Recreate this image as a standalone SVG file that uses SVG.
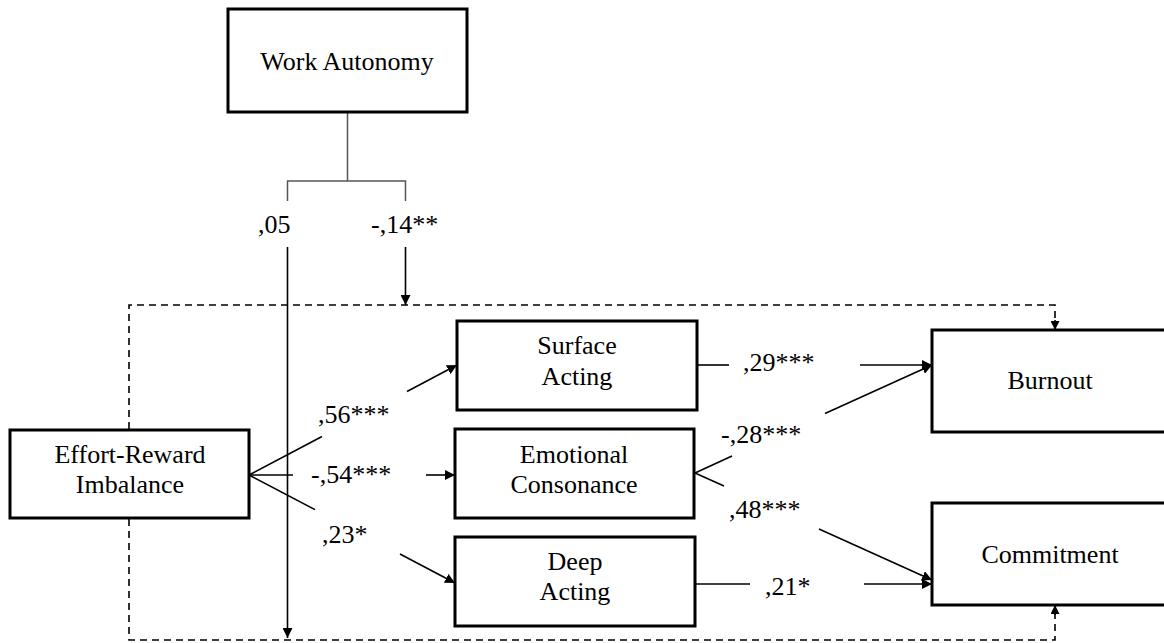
<svg xmlns="http://www.w3.org/2000/svg" width="1164" height="643" viewBox="0 0 1164 643">
<style>
.box{fill:#fff;stroke:#000;stroke-width:3}
.t{font-family:'Liberation Serif',serif;font-size:26px;fill:#000}
.c{text-anchor:middle}
.ln{stroke:#000;stroke-width:1.6;fill:none}
.gr{stroke:#555;stroke-width:1.5;fill:none}
.da{stroke:#000;stroke-width:1.6;fill:none;stroke-dasharray:7,5}
</style>
<defs>
<marker id="ah" markerWidth="10" markerHeight="10" refX="10" refY="5" orient="auto" markerUnits="userSpaceOnUse" viewBox="0 0 10 10">
<path d="M0,0 L10,5 L0,10 z" fill="#000"/>
</marker>
<marker id="ahs" markerWidth="9" markerHeight="9" refX="9" refY="4.5" orient="auto" markerUnits="userSpaceOnUse" viewBox="0 0 9 9">
<path d="M0,0 L9,4.5 L0,9 z" fill="#000"/>
</marker>
</defs>
<rect width="1164" height="643" fill="#fff"/>
<g id="connectors">
<path class="gr" d="M347.5,112 V181 M287.5,201 V181 H405.5 V201"/>
<line class="ln" x1="287.5" y1="247" x2="287.5" y2="638" marker-end="url(#ah)"/>
<line class="ln" x1="405.5" y1="247" x2="405.5" y2="305" marker-end="url(#ah)"/>
<path class="da" d="M129,429 V305 H1055 V322"/>
<line class="ln" x1="1055" y1="320" x2="1055" y2="330" marker-end="url(#ahs)"/>
<path class="da" d="M129,519 V640 H1055 V614"/>
<line class="ln" x1="1055" y1="615" x2="1055" y2="605" marker-end="url(#ahs)"/>
<line class="ln" x1="249" y1="475" x2="322" y2="436.5"/>
<line class="ln" x1="407" y1="391.5" x2="457" y2="365" marker-end="url(#ah)"/>
<line class="ln" x1="249" y1="475" x2="293" y2="475"/>
<line class="ln" x1="426" y1="475" x2="455" y2="475" marker-end="url(#ah)"/>
<line class="ln" x1="249" y1="475" x2="315" y2="509.6"/>
<line class="ln" x1="400" y1="554" x2="455" y2="583" marker-end="url(#ah)"/>
<line class="ln" x1="697" y1="365" x2="729" y2="365"/>
<line class="ln" x1="860" y1="365" x2="932" y2="365" marker-end="url(#ah)"/>
<line class="ln" x1="695" y1="473" x2="732" y2="456"/>
<line class="ln" x1="825" y1="413.5" x2="932" y2="365" marker-end="url(#ah)"/>
<line class="ln" x1="695" y1="473" x2="724" y2="486"/>
<line class="ln" x1="819" y1="529" x2="932" y2="580" marker-end="url(#ah)"/>
<line class="ln" x1="695" y1="584" x2="750" y2="584"/>
<line class="ln" x1="864" y1="584" x2="932" y2="584" marker-end="url(#ah)"/>
</g>
<g id="labels" font-family="Liberation Serif, serif">
<text class="t" x="258" y="233">,05</text>
<text class="t" x="371" y="233">-,14**</text>
<text class="t" x="318" y="423">,56***</text>
<text class="t" x="311" y="483">-,54***</text>
<text class="t" x="322" y="543">,23*</text>
<text class="t" x="743" y="371">,29***</text>
<text class="t" x="721" y="443">-,28***</text>
<text class="t" x="729" y="518">,48***</text>
<text class="t" x="765" y="595">,21*</text>
</g>
<g id="work-autonomy" font-family="Liberation Serif, serif">
<rect class="box" x="228" y="9" width="239" height="103"/>
<text class="t c" x="347" y="70">Work Autonomy</text>
</g>
<g id="effort-reward-imbalance" font-family="Liberation Serif, serif">
<rect class="box" x="10" y="430" width="239" height="88"/>
<text class="t c" x="130" y="463">Effort-Reward</text>
<text class="t c" x="130" y="493">Imbalance</text>
</g>
<g id="surface-acting" font-family="Liberation Serif, serif">
<rect class="box" x="457" y="321" width="240" height="89"/>
<text class="t c" x="577" y="354">Surface</text>
<text class="t c" x="577" y="385">Acting</text>
</g>
<g id="emotional-consonance" font-family="Liberation Serif, serif">
<rect class="box" x="455" y="429" width="239" height="89"/>
<text class="t c" x="574" y="463">Emotional</text>
<text class="t c" x="574" y="493">Consonance</text>
</g>
<g id="deep-acting" font-family="Liberation Serif, serif">
<rect class="box" x="455" y="537" width="240" height="89"/>
<text class="t c" x="575" y="570">Deep</text>
<text class="t c" x="575" y="600">Acting</text>
</g>
<g id="burnout" font-family="Liberation Serif, serif">
<rect class="box" x="932" y="330" width="236" height="102"/>
<text class="t c" x="1050" y="389">Burnout</text>
</g>
<g id="commitment" font-family="Liberation Serif, serif">
<rect class="box" x="932" y="503" width="236" height="102"/>
<text class="t c" x="1050" y="563">Commitment</text>
</g>
</svg>
